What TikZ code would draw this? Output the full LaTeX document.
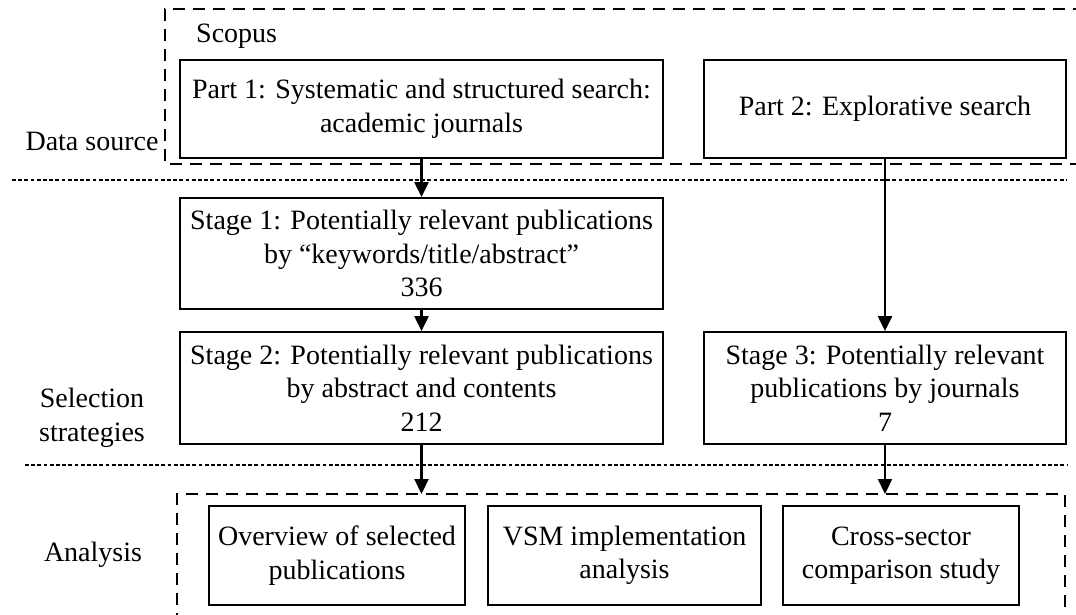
\documentclass[tikz,border=0pt]{standalone}
\usepackage{fontspec}
\setmainfont{Liberation Serif}
\usetikzlibrary{arrows.meta}
\begin{document}
\begin{tikzpicture}[x=1pt,y=-1pt,
  font=\fontsize{28}{33.5}\selectfont,
  box/.style={draw, line width=1.8pt, align=center, inner sep=0pt},
  frame/.style={line width=1.8pt, dash pattern=on 12pt off 8pt},
  sep/.style={line width=1.8pt, dash pattern=on 3.8pt off 2.4pt},
  arr/.style={line width=2.2pt, -{Triangle[length=15pt,width=14pt]}},
  lbl/.style={align=center, inner sep=0pt}]
\fill[white] (0,0) rectangle (1076,615);
\useasboundingbox (0,0) rectangle (1076,615);
\clip (0,0) rectangle (1076,615);

% group frames and phase separators
\draw[frame] (1085,9) -- (165,9) -- (165,164) -- (1085,164);
\draw[frame] (177,625) -- (177,494) -- (1065,494) -- (1065,625);
\draw[sep] (12,180) -- (1067,180);
\draw[sep] (25,465) -- (1067,465);

% phase labels
\node[lbl, anchor=base west] (scopus) at (196,43) {Scopus};
\node[lbl, anchor=base] (datasrc) at (92,150) {Data source};
\node[lbl] (selstr) at (92,418) {Selection\\strategies};
\node[lbl] (analysis) at (93,555) {Analysis};

% search parts
\node[box, minimum width=483pt, minimum height=98pt] (part1) at (421.5,109)
  {Part 1: Systematic and structured search:\\academic journals};
\node[box, minimum width=362pt, minimum height=98pt] (part2) at (885,109)
  {Part 2: Explorative search};

% selection stages
\node[box, minimum width=483pt, minimum height=111pt] (stage1) at (421.5,253.5)
  {Stage 1: Potentially relevant publications\\by ``keywords/title/abstract''\\336};
\node[box, minimum width=483pt, minimum height=112pt] (stage2) at (421.5,388)
  {Stage 2: Potentially relevant publications\\by abstract and contents\\212};
\node[box, minimum width=362pt, minimum height=112pt] (stage3) at (885,388)
  {Stage 3: Potentially relevant\\publications by journals\\7};

% analysis blocks
\node[box, minimum width=256pt, minimum height=99pt] (overview) at (337,555.5)
  {Overview of selected\\publications};
\node[box, minimum width=273pt, minimum height=99pt] (vsm) at (624.5,555.5)
  {VSM implementation\\analysis};
\node[box, minimum width=236pt, minimum height=99pt] (cross) at (901,555.5)
  {Cross-sector\\comparison study};

% entry points on the analysis frame
\coordinate (inA) at (421.5,494);
\coordinate (inB) at (885,494);

% flow
\draw[arr] (part1.south) -- (stage1.north);
\draw[arr] (stage1.south) -- (stage2.north);
\draw[arr] (part2.south) -- (stage3.north);
\draw[arr] (stage2.south) -- (inA);
\draw[arr] (stage3.south) -- (inB);
\end{tikzpicture}
\end{document}
